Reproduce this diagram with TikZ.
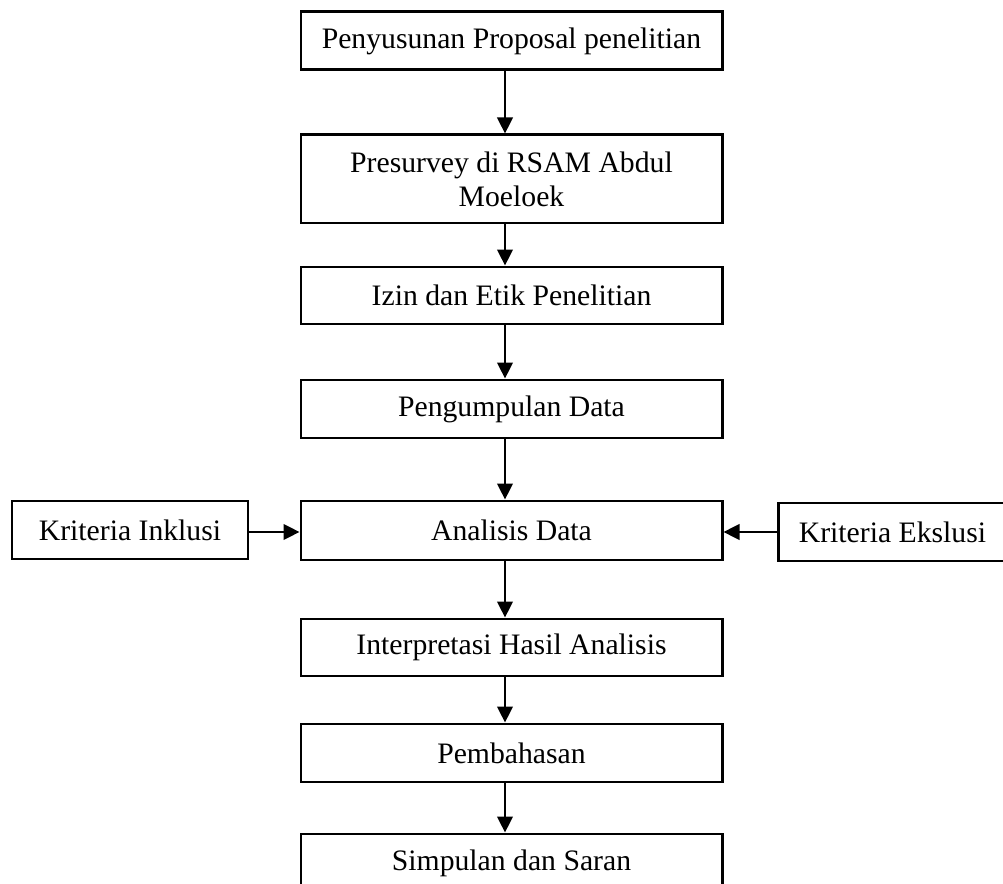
\documentclass[tikz,border=0pt]{standalone}
\usepackage{fontspec}
\setmainfont{Liberation Serif}
\usetikzlibrary{arrows.meta}
\tikzset{b/.style={draw,line width=1.7pt,minimum width=8.42cm,minimum height=1.16cm,inner sep=0pt,align=center,font=\fontsize{16.9}{19.5}\selectfont},arr/.style={-{Triangle[length=3.2mm,width=3.1mm]},line width=1.4pt}}

\begin{document}
\begin{tikzpicture}
\useasboundingbox(0,0)rectangle(20.06,-17.68);
\node[b](Prop)at(10.23,-0.82){Penyusunan Proposal penelitian};
\node[b,minimum height=1.76cm](Pres)at(10.23,-3.58){Presurvey di RSAM Abdul\\Moeloek};
\node[b,minimum height=1.14cm](Izin)at(10.23,-5.91){Izin dan Etik Penelitian};
\node[b](Kump)at(10.23,-8.18){Pengumpulan Data};
\node[b,minimum height=1.18cm](Anl)at(10.23,-10.61){Analisis Data};
\node[b,minimum width=4.72cm](Ink)at(2.6,-10.6){Kriteria Inklusi};
\node[b,minimum width=4.58cm](Eks)at(17.85,-10.64){Kriteria Ekslusi};
\node[b,minimum height=1.14cm](Intp)at(10.23,-12.95){Interpretasi Hasil Analisis};
\node[b](Bhs)at(10.23,-15.06){Pembahasan};
\node[b](Smp)at(10.23,-17.26){Simpulan dan Saran};
\foreach\a/\b in{Prop/Pres,Pres/Izin,Izin/Kump,Kump/Anl,Anl/Intp,Intp/Bhs,Bhs/Smp}\draw[arr]([xshift=-1.3mm]\a.south)--([xshift=-1.3mm]\b.north);
\draw[arr](Ink.east|-0,-10.64)--(Anl.west|-0,-10.64);\draw[arr](Eks.west)--(Anl.east|-Eks.west);
\end{tikzpicture}
\end{document}
